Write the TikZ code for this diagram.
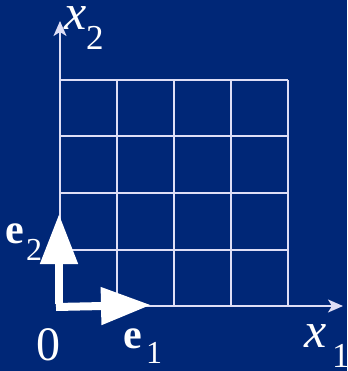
\documentclass[tikz,border=0pt]{standalone}
\usepackage{fontspec}
\setmainfont{Liberation Serif}
\usetikzlibrary{arrows.meta}
\definecolor{bgblue}{RGB}{0,39,119}
\definecolor{linecol}{RGB}{222,222,246}
\tikzset{
  gridline/.style={draw=linecol, line width=2pt},
  axisline/.style={draw=linecol, line width=2pt, -{Stealth[length=15pt,width=13pt,inset=4pt]}},
  evec/.style={draw=white, line width=8pt, -{Triangle[length=50pt,width=36pt]}},
  lab/.style={text=white, inner sep=0pt, anchor=base west},
}
\newcommand{\bigx}{\fontsize{50}{50}\selectfont\itshape x}
\newcommand{\subt}[1]{{\fontsize{35}{35}\selectfont\upshape #1}}
\begin{document}
\begin{tikzpicture}[x=1pt,y=-1pt]
\fill[bgblue] (0,0) rectangle (347,371);
\useasboundingbox (0,0) rectangle (347,371);
\coordinate (O) at (60,306);
\coordinate (Y) at (60,21);
\coordinate (X) at (343,306);
\coordinate (E1) at (151,305);
\coordinate (E2) at (59,214);
% grid
\foreach \i in {0,...,4} {
  \draw[gridline] (60+57*\i,80) -- (60+57*\i,306);
  \draw[gridline] (60,80+56.5*\i) -- (288,80+56.5*\i);
}
% axes
\draw[axisline] (O) -- (Y);
\draw[axisline] (O) -- (X);
% basis vectors
\draw[evec] ([xshift=-4pt,yshift=-1pt]O) -- (E1);
\draw[evec] ([xshift=-1pt,yshift=2pt]O) -- (E2);
% labels
\node[lab] (lx2) at (64,30) {\bigx};
\node[lab] (lx2s) at (86,50) {\subt{2}};
\node[lab] (lx1) at (304,347) {\bigx};
\node[lab] (lx1s) at (332,367) {\subt{1}};
\node[lab] (l0) at (36,360) {\fontsize{48}{48}\selectfont 0};
\node[lab] (le1) at (123,348) {\fontsize{42}{42}\selectfont\bfseries e};
\node[lab] (le1s) at (146,363) {\fontsize{32}{32}\selectfont 1};
\node[lab] (le2) at (5,243) {\fontsize{42}{42}\selectfont\bfseries e};
\node[lab] (le2s) at (26,260) {\fontsize{32}{32}\selectfont 2};
\end{tikzpicture}
\end{document}
